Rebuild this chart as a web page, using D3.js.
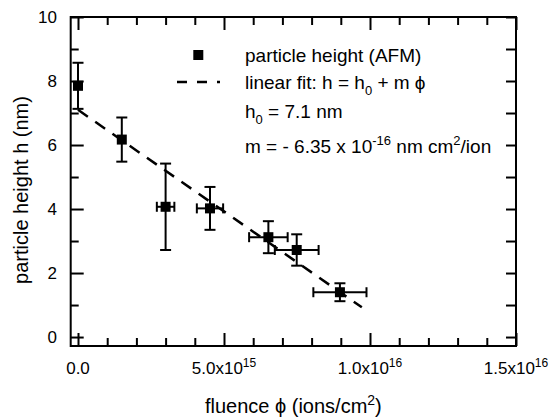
<!DOCTYPE html>
<html>
<head>
<meta charset="utf-8">
<script src="https://cdn.jsdelivr.net/npm/d3@7"></script>
<style>
  html, body { margin: 0; padding: 0; background: #fff; }
  svg { display: block; font-family: "Liberation Sans", Arial, Helvetica, sans-serif; }
</style>
</head>
<body>
<div id="chart"></div>
<script>
// AFM particle height vs ion fluence, with linear fit

const fluence = [0, 1.5e15, 3.0e15, 4.52e15, 6.52e15, 7.49e15, 8.97e15];
const fluenceErr = [0, 0, 3.0e14, 4.5e14, 6.6e14, 7.5e14, 9.1e14];
const heights = [7.85, 6.17, 4.07, 4.02, 3.12, 2.72, 1.40];
const heightErr = [0.72, 0.69, 1.35, 0.67, 0.50, 0.49, 0.28];

const fitH0 = 7.1;
const fitSlope = -6.35e-16;
const fitRange = [0, 9.72e15];

const xMajor = [0, 5e15, 1e16, 1.5e16];
const xMajorLabels = [['0.0', ''], ['5.0x10', '15'], ['1.0x10', '16'], ['1.5x10', '16']];
const xMinor = [1e15, 2e15, 3e15, 4e15, 6e15, 7e15, 8e15, 9e15, 1.1e16, 1.2e16, 1.3e16, 1.4e16];
const yMajor = [0, 2, 4, 6, 8, 10];
const yMinor = [1, 3, 5, 7, 9];

const W = 551, H = 420;
const plotL = 70.7, plotR = 516, plotT = 17, plotB = 346;

const svg = d3.select('#chart').append('svg')
  .attr('width', W)
  .attr('height', H);

const x = d3.scaleLinear().domain([-2.5e14, 1.5e16]).range([plotL, plotR]);
const y = d3.scaleLinear().domain([-0.28, 10]).range([plotB, plotT]);

// ticks, all pointing inward
function ticks(axisFn, scale, values, size, tx, ty) {
  const g = svg.append('g')
    .attr('transform', `translate(${tx},${ty})`)
    .call(axisFn(scale).tickValues(values).tickSize(size).tickFormat(''));
  g.select('.domain').remove();
  g.selectAll('line').attr('stroke', '#000').attr('stroke-width', 2);
}
ticks(d3.axisBottom, x, xMajor, -13, 0, plotB);
ticks(d3.axisBottom, x, xMinor, -8, 0, plotB);
ticks(d3.axisTop, x, xMajor, -13, 0, plotT);
ticks(d3.axisTop, x, xMinor, -8, 0, plotT);
ticks(d3.axisLeft, y, yMajor, -13, plotL, 0);
ticks(d3.axisLeft, y, yMinor, -8, plotL, 0);
ticks(d3.axisRight, y, yMajor.concat(yMinor), -10, plotR, 0);

// frame
svg.append('rect')
  .attr('x', plotL).attr('y', plotT)
  .attr('width', plotR - plotL).attr('height', plotB - plotT)
  .attr('fill', 'none').attr('stroke', '#000').attr('stroke-width', 2);

// tick labels
xMajor.forEach((v, i) => {
  const t = svg.append('text')
    .attr('x', x(v)).attr('y', 374)
    .attr('text-anchor', 'middle')
    .attr('font-size', 17)
    .text(xMajorLabels[i][0]);
  if (xMajorLabels[i][1]) {
    t.append('tspan').attr('dy', -7).attr('font-size', 12).text(xMajorLabels[i][1]);
  }
});

svg.selectAll('text.ylab')
  .data(yMajor)
  .join('text')
  .attr('class', 'ylab')
  .attr('x', 57)
  .attr('y', d => y(d) + 6)
  .attr('text-anchor', 'end')
  .attr('font-size', 17)
  .text(d => d);

// axis titles
const xt = svg.append('text')
  .attr('x', (plotL + plotR) / 2).attr('y', 413)
  .attr('text-anchor', 'middle')
  .attr('font-size', 20)
  .text('fluence \u03D5 (ions/cm');
xt.append('tspan').attr('dy', -8).attr('font-size', 14).text('2');
xt.append('tspan').attr('dy', 8).text(')');

svg.append('text')
  .attr('transform', 'translate(28,190) rotate(-90)')
  .attr('text-anchor', 'middle')
  .attr('font-size', 20)
  .text('particle height h (nm)');

// fit line
const fitLine = d3.line().x(d => x(d)).y(d => y(fitH0 + fitSlope * d));
svg.append('path')
  .datum(fitRange)
  .attr('d', fitLine)
  .attr('fill', 'none')
  .attr('stroke', '#000')
  .attr('stroke-width', 2.5)
  .attr('stroke-dasharray', '12,9');

// data with error bars
const pts = fluence.map((f, i) => ({ f, h: heights[i], fe: fluenceErr[i], he: heightErr[i] }));
const eg = svg.append('g').attr('stroke', '#000').attr('stroke-width', 2);
pts.forEach(d => {
  const cx = x(d.f), cy = y(d.h);
  const y1 = y(d.h + d.he), y2 = y(d.h - d.he);
  eg.append('line').attr('x1', cx).attr('x2', cx).attr('y1', y1).attr('y2', y2);
  eg.append('line').attr('x1', cx - 5.5).attr('x2', cx + 5.5).attr('y1', y1).attr('y2', y1);
  eg.append('line').attr('x1', cx - 5.5).attr('x2', cx + 5.5).attr('y1', y2).attr('y2', y2);
  if (d.fe > 0) {
    const x1 = x(d.f - d.fe), x2 = x(d.f + d.fe);
    eg.append('line').attr('x1', x1).attr('x2', x2).attr('y1', cy).attr('y2', cy);
    eg.append('line').attr('x1', x1).attr('x2', x1).attr('y1', cy - 5).attr('y2', cy + 5);
    eg.append('line').attr('x1', x2).attr('x2', x2).attr('y1', cy - 5).attr('y2', cy + 5);
  }
});
svg.selectAll('rect.pt')
  .data(pts)
  .join('rect')
  .attr('class', 'pt')
  .attr('x', d => x(d.f) - 5)
  .attr('y', d => y(d.h) - 5)
  .attr('width', 10).attr('height', 10)
  .attr('fill', '#000');

// legend
svg.append('rect').attr('x', 193.3).attr('y', 50).attr('width', 10).attr('height', 10).attr('fill', '#000');
svg.append('line')
  .attr('x1', 177).attr('x2', 220).attr('y1', 82).attr('y2', 82)
  .attr('stroke', '#000').attr('stroke-width', 2.5)
  .attr('stroke-dasharray', '10,10');

const lx = 245;
svg.append('text').attr('x', lx).attr('y', 62).attr('font-size', 19).text('particle height (AFM)');

const l2 = svg.append('text').attr('x', lx).attr('y', 89).attr('font-size', 19).text('linear fit: h = h');
l2.append('tspan').attr('dy', 6).attr('font-size', 13).text('0');
l2.append('tspan').attr('dy', -6).text(' + m \u03D5');

const l3 = svg.append('text').attr('x', lx).attr('y', 118).attr('font-size', 19).text('h');
l3.append('tspan').attr('dy', 6).attr('font-size', 13).text('0');
l3.append('tspan').attr('dy', -6).text(' = 7.1 nm');

const l4 = svg.append('text').attr('x', lx).attr('y', 153).attr('font-size', 19).text('m = - 6.35 x 10');
l4.append('tspan').attr('dy', -8).attr('font-size', 13).text('-16');
l4.append('tspan').attr('dy', 8).text(' nm cm');
l4.append('tspan').attr('dy', -8).attr('font-size', 13).text('2');
l4.append('tspan').attr('dy', 8).text('/ion');
</script>
</body>
</html>
